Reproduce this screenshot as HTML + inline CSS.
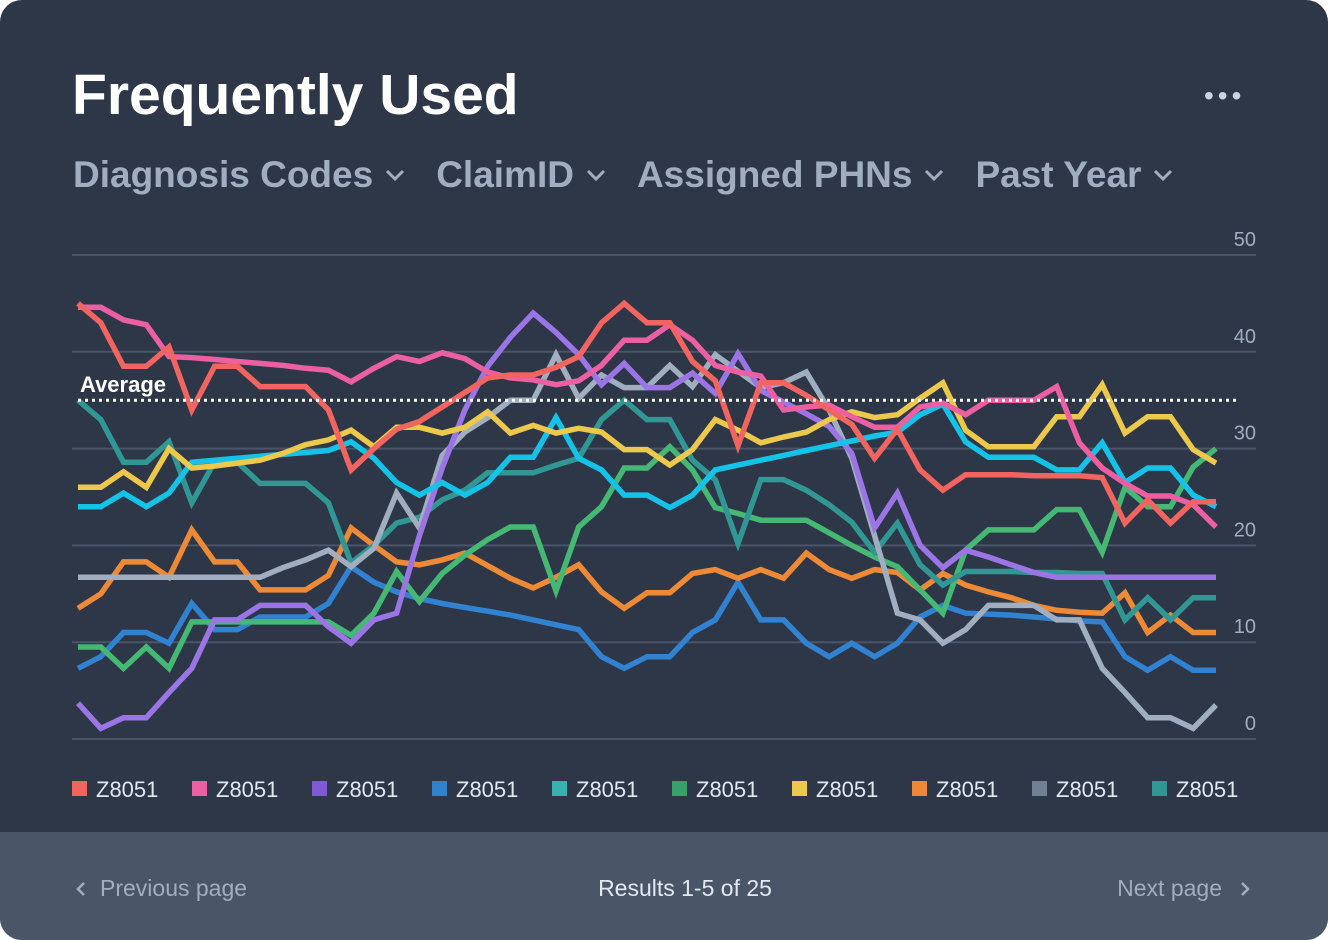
<!DOCTYPE html>
<html><head><meta charset="utf-8"><style>
html,body{margin:0;padding:0;background:#fff;}
body{width:1328px;height:940px;overflow:hidden;font-family:"Liberation Sans",sans-serif;}
.card{position:absolute;left:0;top:0;width:1328px;height:940px;background:#2d3748;border-radius:22px;overflow:hidden;}
.title{position:absolute;left:72px;top:62px;font-size:57px;font-weight:bold;color:#fff;letter-spacing:0px;}
.dots{position:absolute;left:1204px;top:80px;color:#cbd5e0;font-size:28px;letter-spacing:4px;}
.filters{position:absolute;left:73px;top:154px;display:flex;gap:0;}
.f{font-size:37px;font-weight:bold;color:#a0aec0;margin-right:31px;display:flex;align-items:center;}
.f svg{margin-left:12px;}
.footer{position:absolute;left:0;top:832px;width:1328px;height:108px;background:#4a5568;}
.ft{position:absolute;top:43px;font-size:23px;color:#a0aec0;}
</style></head><body>
<div class="card">
<div class="title">Frequently Used</div>
<div class="dots">•••</div>
<div class="filters">
 <div class="f">Diagnosis Codes<svg width="20" height="12"><path d="M2 2 L10 10 L18 2" stroke="#a0aec0" stroke-width="3" fill="none"/></svg></div>
 <div class="f">ClaimID<svg width="20" height="12"><path d="M2 2 L10 10 L18 2" stroke="#a0aec0" stroke-width="3" fill="none"/></svg></div>
 <div class="f">Assigned PHNs<svg width="20" height="12"><path d="M2 2 L10 10 L18 2" stroke="#a0aec0" stroke-width="3" fill="none"/></svg></div>
 <div class="f">Past Year<svg width="20" height="12"><path d="M2 2 L10 10 L18 2" stroke="#a0aec0" stroke-width="3" fill="none"/></svg></div>
</div>
<svg id="chart" width="1328" height="830" style="position:absolute;left:0;top:0"></svg>
<div class="footer">
 <div class="ft" style="left:74px"><svg width="14" height="16" style="vertical-align:-1px;margin-right:12px"><path d="M10 2 L4 8 L10 14" stroke="#a0aec0" stroke-width="2.5" fill="none"/></svg>Previous page</div>
 <div class="ft" style="left:0;width:1370px;text-align:center;color:#e2e8f0">Results 1-5 of 25</div>
 <div class="ft" style="right:76px">Next page<svg width="14" height="16" style="vertical-align:-1px;margin-left:16px"><path d="M4 2 L10 8 L4 14" stroke="#a0aec0" stroke-width="2.5" fill="none"/></svg></div>
</div>
</div>
<script>
const yTicks=[0,10,20,30,40,50];
const average=35;
const seriesNames=["Z8051","Z8051","Z8051","Z8051","Z8051","Z8051","Z8051","Z8051","Z8051","Z8051"];
const seriesColors=["#f2645f","#ec5fa2","#9b75e6","#3282d2","#14c3e8","#45b874","#ecc94b","#ee8a35","#a0aec0","#319795"];
const legendColors=["#f2645f","#ec5fa2","#805ad5","#3182ce","#38b2ac","#38a169","#ecc94b","#ed8936","#718096","#319795"];
const red=[45,43,38.5,38.5,40.5,34,38.5,38.5,36.4,36.4,36.4,34,27.8,30,32,32.8,34.3,35.8,37.3,37.6,37.6,38.4,39.5,43,45,43,43,39,37,30.3,36.8,36.8,35.5,34,32.5,29,32,27.8,25.7,27.3,27.3,27.3,27.2,27.2,27.2,27,22.3,24.7,22.3,24.5,24.5];
const pink=[44.6,44.6,43.3,42.8,39.5,39.4,39.2,39,38.8,38.6,38.3,38.1,36.9,38.3,39.5,39,39.9,39.3,37.9,37.3,37.1,36.6,37,38.6,41.2,41.2,42.8,41.2,38.6,37.9,37.5,34,34.3,34.5,33.3,32.2,32.2,34.3,34.7,33.5,35,35,35,36.4,30.6,28,26.4,25.1,25.1,24.2,21.9];
const purple=[3.7,1.1,2.2,2.2,4.8,7.3,12.3,12.3,13.8,13.8,13.8,11.6,9.9,12.3,13,21,28,34,38.5,41.5,44,42,39.7,36.6,38.8,36.3,36.3,37.8,35.7,39.8,36,34.8,33.6,32.3,29.5,21.8,25.4,20,17.7,19.5,18.8,18,17.2,16.7,16.7,16.7,16.7,16.7,16.7,16.7,16.7];
const blue=[7.3,8.5,11,11,9.9,14,11.3,11.3,12.6,12.6,12.6,14,17.8,16.2,15.2,14.5,14,13.6,13.2,12.8,12.3,11.8,11.3,8.5,7.3,8.5,8.5,11,12.3,16.2,12.3,12.3,9.9,8.5,9.9,8.5,9.9,12.6,13.8,13,12.9,12.8,12.6,12.4,12.2,12.1,8.5,7.1,8.5,7.1,7.1];
const cyan=[24,24,25.4,24,25.4,28.6,28.8,29,29.2,29.4,29.6,29.8,30.7,29,26.5,25.2,26.5,25.2,26.5,29.1,29.1,33.2,29,27.8,25.2,25.2,23.9,25.2,27.8,28.3,28.8,29.3,29.8,30.3,30.8,31.3,31.7,33.5,34.6,30.7,29.1,29.1,29.1,27.8,27.8,30.6,26.5,28,28,25.2,24];
const green=[9.5,9.5,7.3,9.5,7.3,12.1,12.1,12.1,12.1,12.1,12.1,12.1,10.7,13,17.3,14.2,17.1,19,20.6,21.9,21.9,15.3,21.9,24,28,28,30.2,27.8,23.9,23.3,22.6,22.6,22.6,21.3,20,18.8,17.8,15.4,13,19.5,21.6,21.6,21.6,23.7,23.7,19.3,26,24,24,28.1,30];
const yellow=[26,26,27.6,26,30,28,28.2,28.5,28.8,29.5,30.4,30.9,31.9,30.2,32.2,32.2,31.6,32.2,33.8,31.6,32.4,31.6,32.1,31.7,29.9,29.9,28.3,29.9,33,31.9,30.6,31.2,31.7,33,33.8,33.2,33.5,35.2,36.8,31.9,30.2,30.2,30.2,33.3,33.3,36.6,31.6,33.3,33.3,29.9,28.5];
const orange=[13.5,15,18.3,18.3,16.7,21.6,18.3,18.3,15.4,15.4,15.4,16.9,21.8,20,18.3,18,18.5,19.2,17.9,16.6,15.6,16.7,18,15.2,13.5,15.1,15.1,17.1,17.5,16.6,17.5,16.6,19.2,17.5,16.6,17.5,17.2,15.4,17.1,15.9,15.2,14.6,13.8,13.3,13.1,13,15.1,11,12.8,11,11];
const gray=[16.7,16.7,16.7,16.7,16.7,16.7,16.7,16.7,16.7,17.7,18.5,19.5,17.8,19.7,25.4,21.8,29.3,31.7,33.2,35,35,39.7,35.2,37.6,36.3,36.3,38.6,36.4,39.7,38,36.3,36.8,37.9,34,29,21,13,12.3,9.9,11.3,13.8,13.8,13.8,12.3,12.3,7.3,4.8,2.2,2.2,1.1,3.5];
const teal=[35,33,28.6,28.6,30.7,24.4,28.6,28.6,26.4,26.4,26.4,24.4,18.2,20,22.3,22.9,24.7,25.7,27.5,27.5,27.5,28.3,29,33,35,33,33,28.8,26.8,20.2,26.8,26.8,25.7,24.2,22.4,19.3,22.3,18,15.9,17.3,17.3,17.3,17.2,17.2,17.1,17.1,12.3,14.6,12.3,14.6,14.6];
const seriesData=[red,pink,purple,blue,cyan,green,yellow,orange,gray,teal];
const drawOrder=[3,7,5,9,8,2,4,6,1,0];

const NS="http://www.w3.org/2000/svg";
const svg=document.getElementById('chart');
const X0=78,X1=1216,Y0=739,Y50=255;
function xs(i){return X0+(X1-X0)*i/(red.length-1);}
function ys(v){return Y0-(Y0-Y50)*v/50;}
function mk(tag,attrs){const e=document.createElementNS(NS,tag);for(const k in attrs)e.setAttribute(k,attrs[k]);svg.appendChild(e);return e;}

yTicks.forEach(t=>{
  const g=mk('line',{x1:72,x2:1256,y1:ys(t),y2:ys(t),stroke:'#4a5568','stroke-width':2});
  
  
  const tx=mk('text',{x:1256,y:ys(t)-9,'text-anchor':'end','font-size':20,fill:'#a0aec0','font-family':'Liberation Sans, sans-serif'});
  tx.textContent=t;
  
  
});

drawOrder.forEach(si=>{
  const d=seriesData[si];
  const pts=d.map((v,i)=>xs(i).toFixed(1)+','+ys(v).toFixed(1)).join(' ');
  const p=mk('polyline',{points:pts,fill:'none',stroke:seriesColors[si],'stroke-width':5.5,'stroke-linejoin':'miter','stroke-miterlimit':3});
  
  
});

const av=mk('line',{x1:78,x2:1240,y1:ys(average),y2:ys(average),stroke:'#fff','stroke-width':3,'stroke-dasharray':'3 4'});


const al=mk('text',{x:80,y:ys(average)-8,'font-size':22,'font-weight':'bold',fill:'#fff','font-family':'Liberation Sans, sans-serif'});
al.textContent='Average';



seriesNames.forEach((n,i)=>{
  const x=72+i*120;
  const r=mk('rect',{x:x,y:781,width:15,height:15,fill:legendColors[i]});
  
  
  const t=mk('text',{x:x+24,y:797,'font-size':22,fill:'#e2e8f0','font-family':'Liberation Sans, sans-serif'});
  t.textContent=n;
  
  
});
</script>
</body></html>
